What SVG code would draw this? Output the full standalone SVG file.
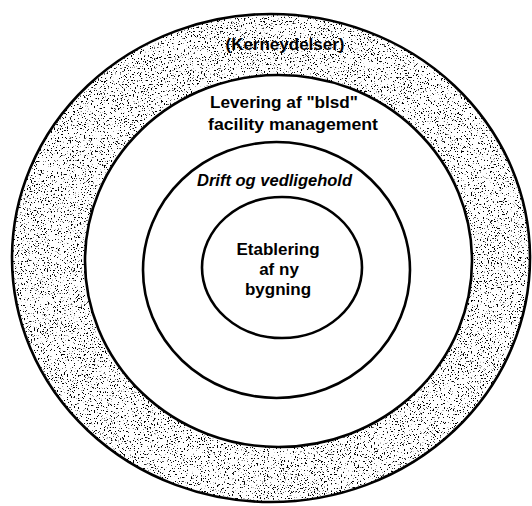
<svg xmlns="http://www.w3.org/2000/svg" width="532" height="506" viewBox="0 0 532 506">
<style>
.ln{fill:none;stroke:#000;stroke-width:2.6}
.t{font-family:"Liberation Sans",Arial,sans-serif;font-weight:bold;font-size:17px;fill:#000}
.c{text-anchor:middle}
</style>
<defs>
<filter id="stip" filterUnits="userSpaceOnUse" x="0" y="0" width="532" height="506">
<feTurbulence type="fractalNoise" baseFrequency="0.7" numOctaves="3" seed="7" result="n"/>
<feColorMatrix in="n" type="matrix" values="0 0 0 0 0  0 0 0 0 0  0 0 0 0 0  16 0 0 0 -9.9" result="dots"/>
<feComposite in="dots" in2="SourceAlpha" operator="in"/>
</filter>
</defs>
<rect width="532" height="506" fill="#fff"/>
<g id="ring-kerneydelser">
<path d="M12,258 a259,244 0 1,0 518,0 a259,244 0 1,0 -518,0Z M85,261 a193.5,186 0 1,0 387,0 a193.5,186 0 1,0 -387,0Z" fill-rule="evenodd" fill="#000" filter="url(#stip)"/>
<ellipse class="ln" cx="271" cy="258" rx="259" ry="244" stroke-width="3.2"/>
<text class="t c" x="285" y="50">(Kerneydelser)</text>
</g>
<g id="ring-facility-management">
<ellipse class="ln" cx="278.5" cy="261" rx="193.5" ry="186"/>
<text class="t" x="210" y="108" textLength="148" lengthAdjust="spacingAndGlyphs">Levering af "blsd"</text>
<text class="t" x="208" y="130" textLength="170" lengthAdjust="spacingAndGlyphs">facility management</text>
</g>
<g id="ring-drift">
<ellipse class="ln" cx="276.5" cy="270" rx="133.5" ry="128"/>
<text class="t" x="197" y="186" font-style="italic" font-size="16.5" textLength="155" lengthAdjust="spacingAndGlyphs">Drift og vedligehold</text>
</g>
<g id="core-etablering">
<ellipse class="ln" cx="282" cy="267.5" rx="80" ry="70.5"/>
<text class="t c" x="278" y="255">Etablering</text>
<text class="t c" x="279" y="275">af ny</text>
<text class="t c" x="278" y="295">bygning</text>
</g>
</svg>
